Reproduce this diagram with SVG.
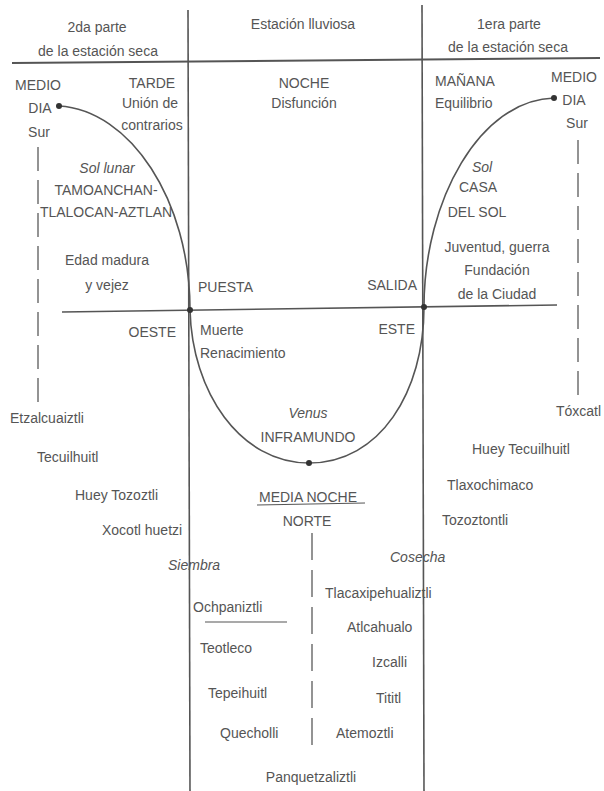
<svg xmlns="http://www.w3.org/2000/svg" width="604" height="791" viewBox="0 0 604 791">
<style>
text{font-family:"Liberation Sans",Arial,sans-serif;font-size:14px;fill:#555}
.c{text-anchor:middle}
.e{text-anchor:end}
.i{font-style:italic}
.ln{stroke:#555;stroke-width:1.6;fill:none}
.dash{stroke:#666;stroke-width:1.4;fill:none;stroke-dasharray:24 9}
.dot{fill:#333}
</style>
<rect width="604" height="791" fill="#fff"/>
<g id="connectors">
<line class="ln" x1="12" y1="63" x2="600" y2="58" style="stroke-width:2"/>
<line class="ln" x1="188" y1="10" x2="190" y2="791"/>
<line class="ln" x1="422" y1="5" x2="424" y2="791"/>
<line class="ln" x1="62" y1="312" x2="557" y2="305"/>
<line class="dash" x1="38" y1="147" x2="38" y2="402"/>
<line class="dash" x1="578" y1="140" x2="578" y2="397"/>
<line class="dash" x1="312" y1="533" x2="312" y2="747" style="stroke-dasharray:27 10"/>
<line class="ln" x1="257" y1="505" x2="365" y2="503" style="stroke-width:1.2"/>
<line class="ln" x1="205" y1="622" x2="287" y2="622" style="stroke-width:1.2"/>
<path class="ln" d="M59,106 C130,110 190,200 190,310"/>
<path class="ln" d="M190,310 C192,392 240,463 309,463 C380,463 424,392 424,307"/>
<path class="ln" d="M424,307 C424,200 480,100 554,98"/>
<circle class="dot" cx="59" cy="106" r="3"/>
<circle class="dot" cx="190" cy="310" r="3"/>
<circle class="dot" cx="424" cy="307" r="3"/>
<circle class="dot" cx="309" cy="463" r="3"/>
<circle class="dot" cx="554" cy="98" r="3"/>
</g>
<g id="header">
<text class="c" x="97" y="32">2da parte</text>
<text class="c" x="98" y="56">de la estación seca</text>
<text class="c" x="303" y="29">Estación lluviosa</text>
<text class="c" x="509" y="29">1era parte</text>
<text class="c" x="508" y="52">de la estación seca</text>
</g>
<g id="oeste-top">
<text class="c" x="38" y="90">MEDIO</text>
<text class="c" x="40" y="113">DIA</text>
<text class="c" x="39" y="137">Sur</text>
<text class="c" x="152" y="88">TARDE</text>
<text class="c" x="150" y="108">Unión de</text>
<text class="c" x="152" y="130">contrarios</text>
<text class="c i" x="107" y="173">Sol lunar</text>
<text class="c" x="106" y="195">TAMOANCHAN-</text>
<text class="c" x="106" y="217">TLALOCAN-AZTLAN</text>
<text class="c" x="107" y="265">Edad madura</text>
<text class="c" x="107" y="290">y vejez</text>
<text x="198" y="292">PUESTA</text>
<text class="e" x="176" y="337">OESTE</text>
<text x="200" y="335">Muerte</text>
<text x="200" y="358">Renacimiento</text>
</g>
<g id="noche">
<text class="c" x="304" y="88">NOCHE</text>
<text class="c" x="304" y="108">Disfunción</text>
<text class="c i" x="308" y="418">Venus</text>
<text class="c" x="308" y="442">INFRAMUNDO</text>
<text class="c" x="308" y="502">MEDIA NOCHE</text>
<text class="c" x="307" y="526">NORTE</text>
</g>
<g id="este-top">
<text x="435" y="86">MAÑANA</text>
<text x="435" y="108">Equilibrio</text>
<text class="c" x="574" y="82">MEDIO</text>
<text class="c" x="574" y="105">DIA</text>
<text class="c" x="577" y="128">Sur</text>
<text class="c i" x="482" y="172">Sol</text>
<text class="c" x="478" y="192">CASA</text>
<text class="c" x="477" y="217">DEL SOL</text>
<text class="c" x="497" y="252">Juventud, guerra</text>
<text class="c" x="497" y="275">Fundación</text>
<text class="c" x="497" y="299">de la Ciudad</text>
<text class="e" x="417" y="290">SALIDA</text>
<text class="e" x="415" y="334">ESTE</text>
</g>
<g id="meses-izq">
<text x="10" y="423">Etzalcuaiztli</text>
<text x="37" y="462">Tecuilhuitl</text>
<text x="75" y="500">Huey Tozoztli</text>
<text x="102" y="535">Xocotl huetzi</text>
<text class="i" x="168" y="570">Siembra</text>
<text x="193" y="612">Ochpaniztli</text>
<text x="200" y="653">Teotleco</text>
<text x="208" y="698">Tepeihuitl</text>
<text x="220" y="738">Quecholli</text>
<text class="c" x="311" y="782">Panquetzaliztli</text>
</g>
<g id="meses-der">
<text x="556" y="416">Tóxcatl</text>
<text x="472" y="454">Huey Tecuilhuitl</text>
<text x="447" y="490">Tlaxochimaco</text>
<text x="442" y="525">Tozoztontli</text>
<text class="i" x="390" y="562">Cosecha</text>
<text x="325" y="598">Tlacaxipehualiztli</text>
<text x="347" y="632">Atlcahualo</text>
<text x="372" y="667">Izcalli</text>
<text x="376" y="703">Tititl</text>
<text x="336" y="738">Atemoztli</text>
</g>
</svg>
